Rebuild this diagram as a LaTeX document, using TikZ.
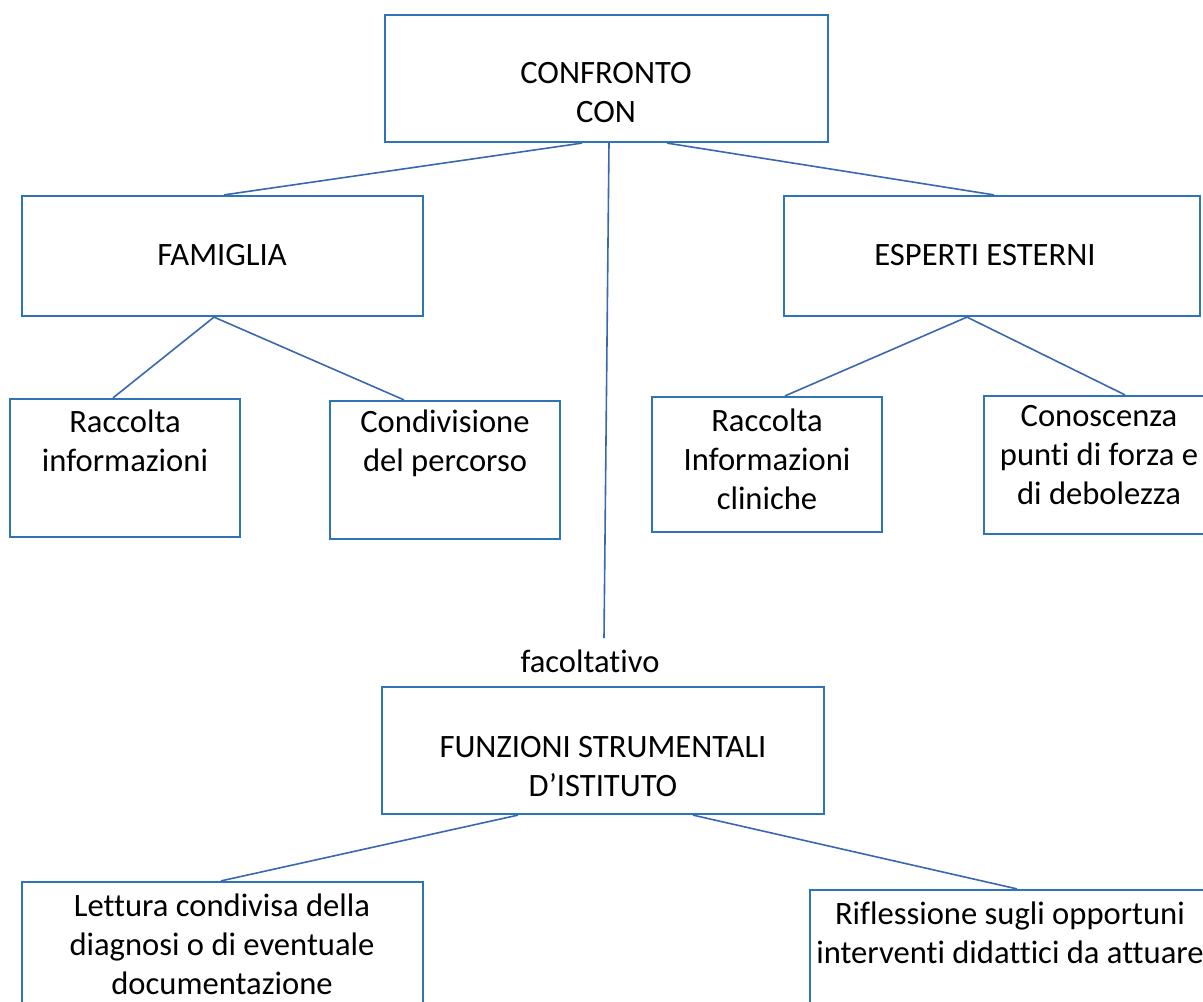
\documentclass[tikz,border=0pt]{standalone}
\usepackage{fontspec}
\setmainfont{Carlito}[Ligatures={NoCommon}]
\usetikzlibrary{calc}
\definecolor{boxblue}{RGB}{46,117,182}
\definecolor{linkblue}{RGB}{58,104,176}
\tikzset{
  box/.style={draw=boxblue, line width=2.2pt, inner sep=0pt, fill=white},
  txt/.style={align=center, inner sep=0pt, font=\fontsize{32.6}{39}\selectfont},
  link/.style={draw=linkblue, line width=1.6pt}
}
\begin{document}
\begin{tikzpicture}[x=1pt,y=-1pt]
\useasboundingbox (0,0) rectangle (1203,1002);
\clip (0,0) rectangle (1203,1002);
\fill[white] (0,0) rectangle (1203,1002);
% boxes
\node[box, minimum width=443pt, minimum height=127pt] (top) at (606.5,78.5) {};
\node[box, minimum width=401pt, minimum height=120pt] (fam) at (222.5,256) {};
\node[box, minimum width=416pt, minimum height=120pt] (esp) at (992,256) {};
\node[box, minimum width=230pt, minimum height=138pt] (r1) at (125,468) {};
\node[box, minimum width=230pt, minimum height=138pt] (c1) at (445,470) {};
\node[box, minimum width=230pt, minimum height=135pt] (r2) at (767,464.5) {};
\node[box, minimum width=230pt, minimum height=138pt] (k2) at (1099,465) {};
\node[box, minimum width=442pt, minimum height=127pt] (fun) at (603,750.5) {};
\node[box, minimum width=401pt, minimum height=140pt] (let) at (222.5,952) {};
\node[box, minimum width=420pt, minimum height=140pt] (rif) at (1020,960) {};
\coordinate (fend) at (604,638);
% texts
\node[txt] at (606,93) {CONFRONTO\\CON};
\node[txt] at (222,255) {FAMIGLIA};
\node[txt] at (985,255) {ESPERTI ESTERNI};
\node[txt] at (125,441) {Raccolta\\informazioni};
\node[txt] at (445,443) {Condivisione\\del percorso};
\node[txt] at (767,459) {Raccolta\\Informazioni\\cliniche};
\node[txt] at (1099,455) {Conoscenza\\punti di forza e\\di debolezza};
\node[txt] at (590,661) {facoltativo};
\node[txt] at (603,767) {FUNZIONI STRUMENTALI\\D’ISTITUTO};
\node[txt] at (222,944) {Lettura condivisa della\\diagnosi o di eventuale\\documentazione};
\node[txt] at (1010,932.5) {Riflessione sugli opportuni\\interventi didattici da attuare};
% connectors
\draw[link] ([xshift=-24.5pt]top.south) -- ([xshift=1.5pt]fam.north);
\draw[link] ([xshift=2.5pt]top.south) -- (fend);
\draw[link] ([xshift=60.5pt]top.south) -- ([xshift=2pt]esp.north);
\draw[link] ([xshift=-8.5pt]fam.south) -- ([xshift=-12pt]r1.north);
\draw[link] ([xshift=-8.5pt]fam.south) -- ([xshift=-41pt]c1.north);
\draw[link] ([xshift=-25pt]esp.south) -- ([xshift=18pt]r2.north);
\draw[link] ([xshift=-25pt]esp.south) -- ([xshift=26pt]k2.north);
\draw[link] ([xshift=-85pt]fun.south) -- ([xshift=-1.5pt]let.north);
\draw[link] ([xshift=90pt]fun.south) -- ([xshift=-3pt]rif.north);
\end{tikzpicture}
\end{document}
